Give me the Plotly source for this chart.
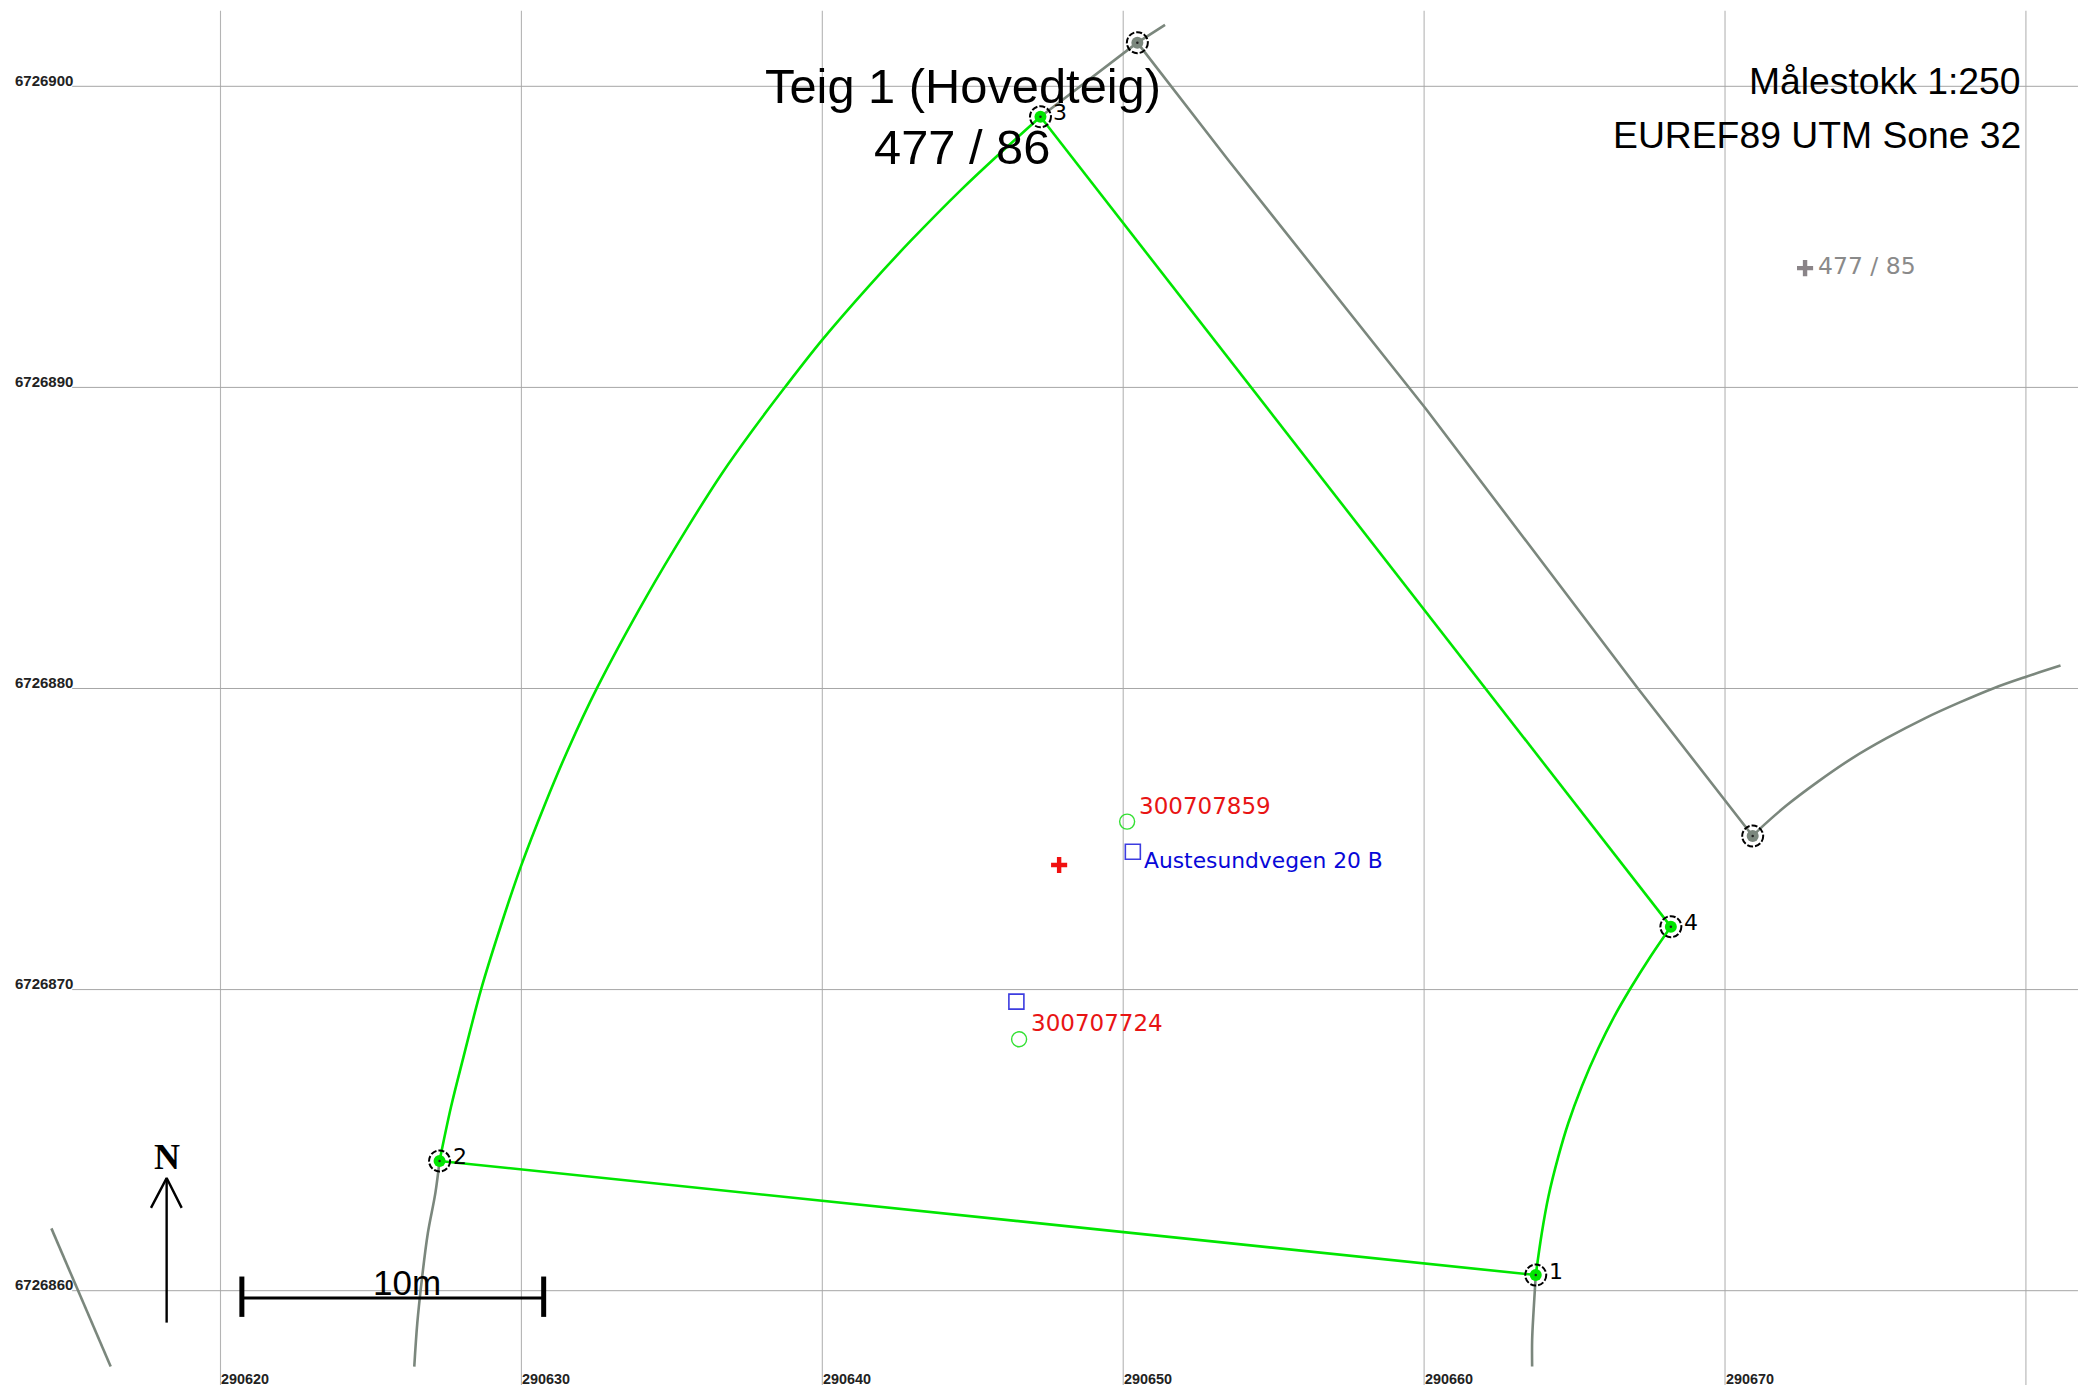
import plotly.graph_objects as go

# Map grid (EUREF89 UTM 32, metres)
grid_east = [290620, 290630, 290640, 290650, 290660, 290670, 290680]
grid_north = [6726860, 6726870, 6726880, 6726890, 6726900]
east_tick_labels = ["290620", "290630", "290640", "290650", "290660", "290670"]
north_tick_labels = ["6726860", "6726870", "6726880", "6726890", "6726900"]

# Parcel 477/86 boundary
vertex_labels = ["1", "2", "3", "4"]
vertex_east = [290663.71, 290627.28, 290647.25, 290668.20]
vertex_north = [6726860.52, 6726864.31, 6726898.99, 6726872.09]

arc_23_east = [290627.28, 290627.66, 290628.07, 290628.67, 290629.30, 290629.99, 290630.78, 290631.54,
               290632.51, 290634.16, 290635.53, 290636.67, 290637.67, 290638.77, 290639.99, 290641.57,
               290642.95, 290644.62, 290645.91, 290647.25]
arc_23_north = [6726864.31, 6726866.10, 6726867.74, 6726870.04, 6726872.07, 6726874.11, 6726876.15, 6726877.95,
                6726880.01, 6726883.06, 6726885.36, 6726887.15, 6726888.56, 6726890.02, 6726891.57, 6726893.39,
                6726894.88, 6726896.57, 6726897.78, 6726898.99]
arc_41_east = [290668.20, 290667.53, 290666.84, 290666.30, 290665.79, 290665.24, 290664.79, 290664.46, 290664.13, 290663.91, 290663.71]
arc_41_north = [6726872.09, 6726871.11, 6726870.01, 6726869.07, 6726868.05, 6726866.78, 6726865.56, 6726864.45, 6726863.12, 6726861.91, 6726860.52]

# Neighbouring parcel lines
neighbour_vertex_east = [290650.47, 290670.92]
neighbour_vertex_north = [6726901.45, 6726875.10]
gray_a_east = [290647.25, 290650.47, 290651.39]
gray_a_north = [6726898.99, 6726901.45, 6726902.04]
gray_b_east = [290650.47, 290653.49, 290660.05, 290665.89, 290667.10, 290670.92]
gray_b_north = [6726901.45, 6726897.55, 6726889.30, 6726881.61, 6726880.01, 6726875.10]
gray_c_east = [290670.92, 290671.30, 290672.06, 290673.08, 290674.22, 290675.37, 290676.64, 290677.78, 290678.93, 290680.01, 290681.15]
gray_c_north = [6726875.10, 6726875.47, 6726876.13, 6726876.90, 6726877.68, 6726878.35, 6726879.01, 6726879.53, 6726880.01, 6726880.39, 6726880.76]
gray_d_east = [290627.28, 290627.14, 290626.89, 290626.69, 290626.54, 290626.44]
gray_d_north = [6726864.31, 6726863.24, 6726861.91, 6726860.36, 6726858.92, 6726857.48]
gray_e_east = [290663.71, 290663.64, 290663.59, 290663.59]
gray_e_north = [6726860.52, 6726859.36, 6726858.36, 6726857.48]
gray_f_east = [290614.38, 290616.35]
gray_f_north = [6726862.07, 6726857.48]

# Point objects
building_east = [290650.13, 290646.54]
building_north = [6726875.58, 6726868.35]
building_labels = ["300707859", "300707724"]
address_east = [290650.32, 290646.45]
address_north = [6726874.58, 6726869.60]
address_label = "Austesundvegen 20 B"
centre_main = (290647.87, 6726874.14)
centre_other = (290672.66, 6726893.96)
centre_other_label = "477 / 85"

# Scale bar and north arrow, in map units
scale_east = [290620.71, 290630.74]
scale_north = 6726859.76
scale_tick_north = [6726860.47, 6726859.13]
scale_label_east = 290626.20
arrow_east = 290618.21
arrow_north = [6726863.74, 6726858.94]
arrow_head_east = [290617.69, 290618.21, 290618.71]
arrow_head_north = [6726862.75, 6726863.74, 6726862.75]

W, H = 2100, 1399
X0, X1 = 290612.672, 290682.462
Y1, Y0 = 6726902.866, 6726856.403
GRID_E_LIMITS = (6726856.87, 6726902.51)
GRID_N_LIMITS = (290615.07, 290681.73)

GREEN = "#00e600"
GRAY = "#7b877d"
SANS = "Liberation Sans"
DEJAVU = "DejaVu Sans"

fig = go.Figure()


def line(xs, ys, color, width, smooth=False):
    spec = dict(color=color, width=width)
    if smooth:
        spec.update(shape="spline", smoothing=1.0)
    fig.add_trace(go.Scatter(x=xs, y=ys, mode="lines", line=spec, hoverinfo="skip", showlegend=False))


for e in grid_east:
    line([e, e], list(GRID_E_LIMITS), "#b4b4b4", 1.1)
for n in grid_north:
    line(list(GRID_N_LIMITS), [n, n], "#a6a6a6", 1.0)

line(gray_a_east, gray_a_north, GRAY, 2.6)
line(gray_b_east, gray_b_north, GRAY, 2.6)
line(gray_c_east, gray_c_north, GRAY, 2.6, smooth=True)
line(gray_d_east, gray_d_north, GRAY, 2.6, smooth=True)
line(gray_e_east, gray_e_north, GRAY, 2.6, smooth=True)
line(gray_f_east, gray_f_north, GRAY, 2.6)

line([vertex_east[0], vertex_east[1]], [vertex_north[0], vertex_north[1]], GREEN, 2.6)
line(arc_23_east, arc_23_north, GREEN, 2.6, smooth=True)
line([vertex_east[2], vertex_east[3]], [vertex_north[2], vertex_north[3]], GREEN, 2.6)
line(arc_41_east, arc_41_north, GREEN, 2.6, smooth=True)

# Scale bar
line(scale_east, [scale_north, scale_north], "black", 3)
for e in scale_east:
    line([e, e], scale_tick_north, "black", 5)
# North arrow
line([arrow_east, arrow_east], arrow_north, "black", 2.4)
line(arrow_head_east, arrow_head_north, "black", 2.4)

# Vertex dots
fig.add_trace(go.Scatter(x=neighbour_vertex_east, y=neighbour_vertex_north, mode="markers",
                         marker=dict(color=GRAY, size=12), hoverinfo="skip", showlegend=False))
fig.add_trace(go.Scatter(x=vertex_east, y=vertex_north, mode="markers",
                         marker=dict(color=GREEN, size=12), hoverinfo="skip", showlegend=False))
fig.add_trace(go.Scatter(x=vertex_east + neighbour_vertex_east, y=vertex_north + neighbour_vertex_north,
                         mode="markers", marker=dict(color="#222222", size=2.5),
                         hoverinfo="skip", showlegend=False))

# Point objects
fig.add_trace(go.Scatter(x=building_east, y=building_north, mode="markers",
                         marker=dict(symbol="circle-open", size=15, color="#33e033", line=dict(width=1.4)),
                         hoverinfo="skip", showlegend=False))
fig.add_trace(go.Scatter(x=address_east, y=address_north, mode="markers",
                         marker=dict(symbol="square-open", size=15, color="#3c3ce0", line=dict(width=1.6)),
                         hoverinfo="skip", showlegend=False))
fig.add_trace(go.Scatter(x=[centre_main[0]], y=[centre_main[1]], mode="markers",
                         marker=dict(symbol="cross-thin", size=11.5, line=dict(color="#f01010", width=4.4)),
                         hoverinfo="skip", showlegend=False))
fig.add_trace(go.Scatter(x=[centre_other[0]], y=[centre_other[1]], mode="markers",
                         marker=dict(symbol="cross-thin", size=11.5, line=dict(color="#8a8488", width=4.4)),
                         hoverinfo="skip", showlegend=False))

# Dashed vertex rings
shapes = []
for e, n in zip(vertex_east + neighbour_vertex_east, vertex_north + neighbour_vertex_north):
    shapes.append(dict(type="circle", xref="x", yref="y", xsizemode="pixel", ysizemode="pixel",
                       xanchor=e, yanchor=n, x0=-10.5, x1=10.5, y0=-10.5, y1=10.5,
                       line=dict(color="black", width=2, dash="6px,2px")))

annotations = []


def paper_text(text, px, py, size, color="black", family=SANS, xanchor="center", bold=False):
    t = f"<b>{text}</b>" if bold else text
    annotations.append(dict(text=t, xref="paper", yref="paper", x=px / W, y=1 - py / H, showarrow=False,
                            xanchor=xanchor, yanchor="middle", font=dict(size=size, color=color, family=family)))


def map_text(text, e, n, size, color, xshift=0, yshift=0, family=DEJAVU, xanchor="left", bold=False):
    t = f"<b>{text}</b>" if bold else text
    annotations.append(dict(text=t, xref="x", yref="y", x=e, y=n, xshift=xshift, yshift=yshift, showarrow=False,
                            xanchor=xanchor, yanchor="middle", font=dict(size=size, color=color, family=family)))


# Tick labels
for lab, e in zip(east_tick_labels, grid_east):
    annotations.append(dict(text=f"<b>{lab}</b>", xref="x", yref="paper", x=e, xshift=-1.5, y=1 - 1379 / H,
                            showarrow=False, xanchor="left", yanchor="middle",
                            font=dict(size=14.4, color="#222222", family=SANS)))
for lab, n in zip(north_tick_labels, grid_north):
    annotations.append(dict(text=f"<b>{lab}</b>", xref="paper", yref="y", x=13 / W, y=n, yshift=6, showarrow=False,
                            xanchor="left", yanchor="middle", font=dict(size=15, color="#222222", family=SANS)))

# Titles
paper_text("Teig 1 (Hovedteig)", 963, 86, 48.8)
paper_text("477 / 86", 962, 146.5, 48.8)
paper_text("Målestokk 1:250", 2022.5, 81, 37.3, xanchor="right")
paper_text("EUREF89 UTM Sone 32", 2022.5, 135, 37.3, xanchor="right")

# Vertex numbers
for lab, e, n in zip(vertex_labels, vertex_east, vertex_north):
    map_text(lab, e, n, 22, "black", xshift=11, yshift=4)

# Object labels
map_text(building_labels[0], building_east[0], building_north[0], 23, "#e81414", xshift=10, yshift=16)
map_text(building_labels[1], building_east[1], building_north[1], 23, "#e81414", xshift=10, yshift=16)
map_text(address_label, address_east[0], address_north[0], 21.8, "#0808d8", xshift=9, yshift=-9)
map_text(centre_other_label, centre_other[0], centre_other[1], 23.5, "#8a8a8a", xshift=11, yshift=2)

# Scale bar and north labels
map_text("10m", scale_label_east, scale_north, 35, "black", yshift=15, family=SANS, xanchor="center")
map_text("N", arrow_east, arrow_head_north[1], 36, "black", yshift=21, family="Liberation Serif",
         xanchor="center", bold=True)

fig.update_layout(
    width=W, height=H, margin=dict(l=0, r=0, t=0, b=0, pad=0), autosize=False,
    paper_bgcolor="white", plot_bgcolor="white", showlegend=False, hovermode=False,
    xaxis=dict(range=[X0, X1], visible=False, showgrid=False, zeroline=False),
    yaxis=dict(range=[Y0, Y1], visible=False, showgrid=False, zeroline=False, tickformat="d"),
    shapes=shapes, annotations=annotations,
)

fig.write_html("out.html", config=dict(displayModeBar=False),
               post_script="document.body.style.margin='0';document.body.style.overflow='hidden';")
